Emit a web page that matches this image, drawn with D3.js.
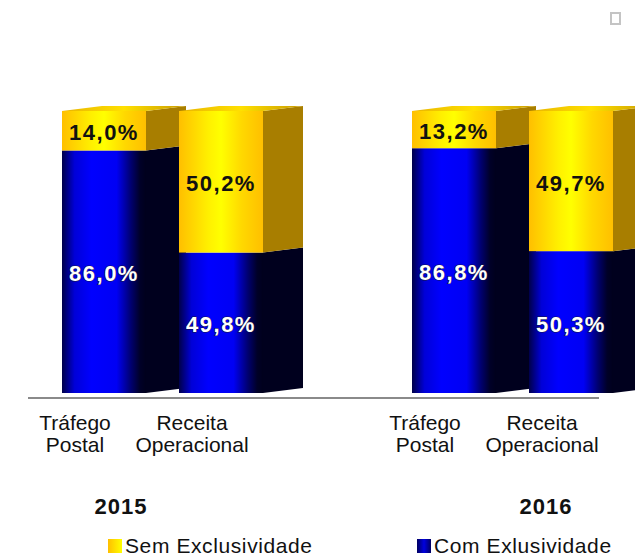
<!DOCTYPE html>
<html>
<head>
<meta charset="utf-8">
<script src="https://cdn.jsdelivr.net/npm/d3@7"></script>
<style>
  body { margin: 0; background: #fff; }
  svg { display: block; font-family: "Liberation Sans", Arial, sans-serif; }
</style>
</head>
<body>
<div id="chart"></div>
<script>
// data
var years = ["2015", "2016"];
var metrics = ["Tráfego Postal", "Receita Operacional"];
var metricLines = [["Tráfego", "Postal"], ["Receita", "Operacional"]];
var comExclusividade = [[86.0, 49.8], [86.8, 50.3]];
var semExclusividade = [[14.0, 50.2], [13.2, 49.7]];
var seriesNames = ["Sem Exclusividade", "Com Exlusividade"];

/*
 *  StackedBars3D - Object constructor function
 *  @param _parentElement   -- HTML element in which to draw the visualization
 */
StackedBars3D = function(_parentElement) {
  this.parentElement = _parentElement;
  this.width = 635;
  this.height = 557;
  this.depthX = 40;
  this.depthY = -5;
  this.yearLabelX = [121, 546];
  this.initVis();
};

StackedBars3D.prototype.initVis = function() {
  var vis = this;

  vis.svg = d3.select(vis.parentElement).append("svg")
    .attr("width", vis.width)
    .attr("height", vis.height);

  var defs = vis.svg.append("defs");

  function hGrad(id, stops) {
    var g = defs.append("linearGradient").attr("id", id)
      .attr("x1", "0%").attr("x2", "100%").attr("y1", "0%").attr("y2", "0%");
    stops.forEach(function(s) {
      g.append("stop").attr("offset", s[0]).attr("stop-color", s[1]);
    });
  }

  hGrad("blueFront", [["0%", "#00004a"], ["15%", "#0000d8"], ["35%", "#0000ff"],
    ["65%", "#0000f4"], ["82%", "#000070"], ["93%", "#000028"], ["100%", "#00001c"]]);
  hGrad("yellowFront", [["0%", "#ffbf00"], ["35%", "#fff000"], ["50%", "#ffff00"],
    ["75%", "#ffd800"], ["100%", "#ffbf00"]]);
  hGrad("yellowTop", [["0%", "#e8b400"], ["50%", "#ffe000"], ["100%", "#c89a00"]]);
  hGrad("legendYellow", [["0%", "#ffbf00"], ["100%", "#ffff00"]]);
  hGrad("legendBlue", [["0%", "#000060"], ["50%", "#0000e0"], ["100%", "#000060"]]);

  vis.x0 = d3.scaleBand().domain(years).range([62, 762]);
  vis.x1 = d3.scaleBand().domain(metrics).range([0, 201]).paddingInner(33 / 117);
  vis.y = d3.scaleLinear().domain([0, 100]).range([393, 111]);

  vis.wrangleData();
};

StackedBars3D.prototype.wrangleData = function() {
  var vis = this;

  vis.bars = [];
  years.forEach(function(yr, i) {
    metrics.forEach(function(m, j) {
      vis.bars.push({
        year: yr, metric: m, yi: i, mi: j,
        com: comExclusividade[i][j],
        sem: semExclusividade[i][j]
      });
    });
  });

  vis.updateVis();
};

StackedBars3D.prototype.updateVis = function() {
  var vis = this;
  var dx = vis.depthX, dy = vis.depthY;
  var bw = vis.x1.bandwidth();

  // baseline
  vis.svg.append("line")
    .attr("x1", 28).attr("x2", 599)
    .attr("y1", vis.y(0) + 5).attr("y2", vis.y(0) + 5)
    .attr("stroke", "#8a8a8a").attr("stroke-width", 2);

  var bar = vis.svg.selectAll(".bar")
    .data(vis.bars)
    .enter().append("g")
    .attr("class", "bar")
    .attr("transform", function(d) {
      return "translate(" + (vis.x0(d.year) + vis.x1(d.metric)) + ",0)";
    });

  function side(y0, y1) {
    return [[bw, y0], [bw + dx, y0 + dy], [bw + dx, y1 + dy], [bw, y1]].join(" ");
  }

  // blue segment (bottom)
  bar.append("polygon")
    .attr("points", function(d) { return side(vis.y(d.com), vis.y(0)); })
    .attr("fill", "#00001e");
  bar.append("rect")
    .attr("x", 0).attr("width", bw)
    .attr("y", function(d) { return vis.y(d.com); })
    .attr("height", function(d) { return vis.y(0) - vis.y(d.com); })
    .attr("fill", "url(#blueFront)");

  // yellow segment (top)
  bar.append("polygon")
    .attr("points", function(d) { return side(vis.y(d.com + d.sem), vis.y(d.com)); })
    .attr("fill", "#a87e00");
  bar.append("rect")
    .attr("x", 0).attr("width", bw)
    .attr("y", function(d) { return vis.y(d.com + d.sem); })
    .attr("height", function(d) { return vis.y(d.com) - vis.y(d.com + d.sem); })
    .attr("fill", "url(#yellowFront)");

  // top face
  bar.append("polygon")
    .attr("points", function(d) {
      var t = vis.y(d.com + d.sem);
      return [[0, t], [bw, t], [bw + dx, t + dy], [dx, t + dy]].join(" ");
    })
    .attr("fill", "url(#yellowTop)");

  // value labels
  bar.append("text")
    .attr("x", bw / 2)
    .attr("y", function(d) { return (vis.y(d.com + d.sem) + vis.y(d.com)) / 2 + 2; })
    .attr("text-anchor", "middle")
    .attr("dominant-baseline", "central")
    .attr("font-size", 22).attr("font-weight", "bold")
    .attr("letter-spacing", 1.5)
    .attr("fill", "#111")
    .text(function(d) { return d3.format(".1f")(d.sem).replace(".", ",") + "%"; });

  bar.append("text")
    .attr("x", bw / 2)
    .attr("y", function(d) { return (vis.y(d.com) + vis.y(0)) / 2 + 2; })
    .attr("text-anchor", "middle")
    .attr("dominant-baseline", "central")
    .attr("font-size", 22).attr("font-weight", "bold")
    .attr("letter-spacing", 1.5)
    .attr("fill", "#fff")
    .attr("stroke", "#1a1a40").attr("stroke-width", 1)
    .attr("paint-order", "stroke")
    .text(function(d) { return d3.format(".1f")(d.com).replace(".", ",") + "%"; });

  // category labels
  var cat = bar.append("text")
    .attr("text-anchor", "middle")
    .attr("font-size", 21)
    .attr("fill", "#111");
  cat.append("tspan")
    .attr("x", bw / 2 - 29).attr("y", 430)
    .text(function(d) { return metricLines[d.mi][0]; });
  cat.append("tspan")
    .attr("x", bw / 2 - 29).attr("y", 452)
    .text(function(d) { return metricLines[d.mi][1]; });

  // year labels
  vis.svg.selectAll(".year")
    .data(years)
    .enter().append("text")
    .attr("class", "year")
    .attr("x", function(d, i) { return vis.yearLabelX[i]; })
    .attr("y", 514)
    .attr("text-anchor", "middle")
    .attr("font-size", 22).attr("font-weight", "bold")
    .attr("letter-spacing", 1)
    .attr("fill", "#111")
    .text(function(d) { return d; });

  // legend
  var legend = vis.svg.selectAll(".legend")
    .data(seriesNames)
    .enter().append("g")
    .attr("class", "legend")
    .attr("transform", function(d, i) { return "translate(" + [108, 417][i] + ",539)"; });
  legend.append("rect")
    .attr("width", 14).attr("height", 14)
    .attr("fill", function(d, i) { return i === 0 ? "url(#legendYellow)" : "url(#legendBlue)"; });
  legend.append("text")
    .attr("x", 17).attr("y", 14)
    .attr("font-size", 21)
    .attr("letter-spacing", 0.6)
    .attr("fill", "#111")
    .text(function(d) { return d; });

  // little grey box at the top right
  vis.svg.append("rect")
    .attr("x", 611).attr("y", 13).attr("width", 9).attr("height", 11)
    .attr("fill", "#fff").attr("stroke", "#c4c4c4").attr("stroke-width", 2);
};

var chart = new StackedBars3D("#chart");
</script>
</body>
</html>
